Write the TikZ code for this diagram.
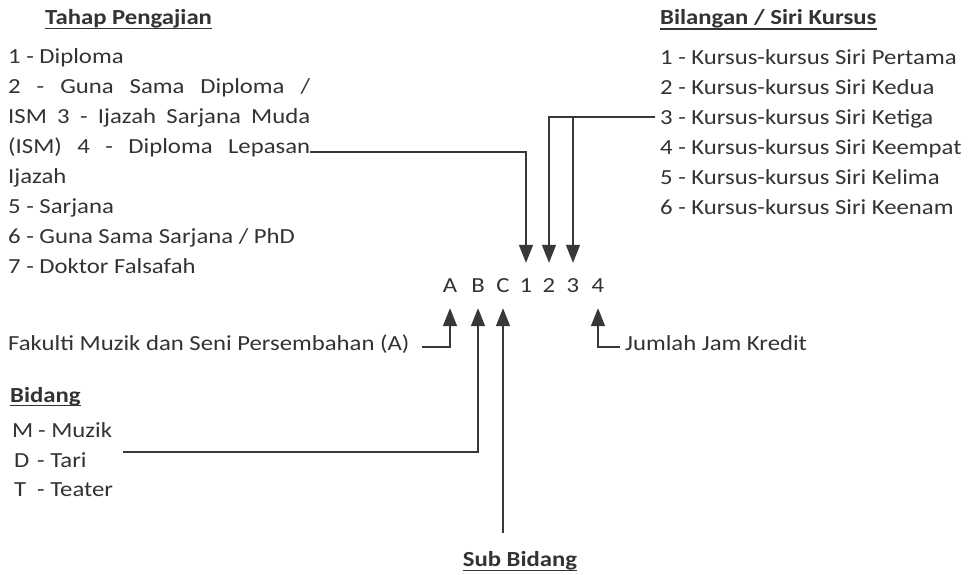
\documentclass[tikz,border=0pt]{standalone}
\usepackage{fontspec}
\setmainfont{Carlito}[FakeStretch=1.15]
\usetikzlibrary{arrows.meta,calc}
\definecolor{txt}{HTML}{333333}
\definecolor{ln}{HTML}{383838}
\begin{document}
\begin{tikzpicture}[x=1pt,y=-1pt,
  lbl/.style={anchor=base west, inner sep=0pt, text=txt, font=\fontsize{21.5}{26}\selectfont},
  head/.style={lbl, font=\fontsize{21.5}{26}\selectfont\bfseries},
  codech/.style={anchor=base, inner sep=0pt, text=txt, text height=13pt, text depth=0pt, font=\fontsize{21.5}{26}\selectfont},
  conn/.style={draw=ln, line width=1.5pt},
  arr/.style={conn, -{Triangle[width=14pt,length=18pt]}, shorten >=16pt},
  uline/.style={draw=txt, line width=1.4pt}]
\fill[white] (0,0) rectangle (972,574);
\useasboundingbox (0,0) rectangle (972,574);

% Tahap Pengajian
\node[head] (hT) at (45,24) {Tahap Pengajian};
\draw[uline] ($(hT.base west)+(0,4.5)$) -- ($(hT.base east)+(0,4.5)$);
\node[lbl] (l1) at (8,63) {1 - Diploma};
\node[lbl] (l2) at (8,93) {\makebox[302pt][s]{2 - Guna Sama Diploma /}};
\node[lbl] (l3) at (8,123) {\makebox[302pt][s]{ISM 3 - Ijazah Sarjana Muda}};
\node[lbl] (l4) at (8,153) {\makebox[302pt][s]{(ISM) 4 - Diploma Lepasan}};
\node[lbl] (l5) at (8,183) {Ijazah};
\node[lbl] (l6) at (8,213) {5 - Sarjana};
\node[lbl] (l7) at (8,243) {6 - Guna Sama Sarjana / PhD};
\node[lbl] (l8) at (8,273) {7 - Doktor Falsafah};

% Bilangan / Siri Kursus
\node[head] (hB) at (660,24) {Bilangan / Siri Kursus};
\draw[uline] ($(hB.base west)+(0,5)$) -- ($(hB.base east)+(0,5)$);
\node[lbl] (r1) at (660,64) {1 - Kursus-kursus Siri Pertama};
\node[lbl] (r2) at (660,94) {2 - Kursus-kursus Siri Kedua};
\node[lbl] (r3) at (660,124) {3 - Kursus-kursus Siri Ketiga};
\node[lbl] (r4) at (660,154) {4 - Kursus-kursus Siri Keempat};
\node[lbl] (r5) at (660,184) {5 - Kursus-kursus Siri Kelima};
\node[lbl] (r6) at (660,214) {6 - Kursus-kursus Siri Keenam};

% code
\node[codech] (cA) at (450,292) {A};
\node[codech] (cB) at (478,292) {B};
\node[codech] (cC) at (503,292) {C};
\node[codech] (c1) at (526,292) {1};
\node[codech] (c2) at (549,292) {2};
\node[codech] (c3) at (573,292) {3};
\node[codech] (c4) at (598,292) {4};

% lower labels
\node[lbl] (fak) at (8,350) {Fakulti Muzik dan Seni Persembahan (A)};
\node[lbl] (jum) at (625,350) {Jumlah Jam Kredit};
\node[head] (hBd) at (10,402) {Bidang};
\draw[uline] ($(hBd.base west)+(0,3.5)$) -- ($(hBd.base east)+(0,3.5)$);
\node[lbl] (bM) at (12,437) {\makebox[26pt][l]{M}- Muzik};
\node[lbl] (bD) at (14,467) {\makebox[23pt][l]{D}- Tari};
\node[lbl] (bT) at (14,496) {\makebox[23pt][l]{T}- Teater};
\node[head, anchor=base] (hS) at (520,566) {Sub Bidang};
\draw[uline] ($(hS.base west)+(0,4.5)$) -- ($(hS.base east)+(0,4.5)$);

% connectors
\coordinate (l4end) at ($(l4.base east)+(0,-1)$);
\draw[arr] (l4end) -| (c1.north);
\coordinate (r3w) at ($(r3.base west)+(-5,-7)$);
\draw[arr] (r3w) -| (c2.north);
\draw[arr] (c3.north |- r3w) -- (c3.north);
\coordinate (fakend) at ($(fak.base east)+(12,-3)$);
\draw[arr] (fakend) -| (cA.south);
\coordinate (jumst) at ($(jum.base west)+(-5,-3)$);
\draw[arr] (jumst) -| (c4.south);
\coordinate (bstart) at ($(bD.base west)+(109,-15)$);
\draw[arr] (bstart) -| (cB.south);
\coordinate (sbtop) at ($(hS.north)+(0,-18)$);
\draw[arr] (cC.south |- sbtop) -- (cC.south);
\end{tikzpicture}
\end{document}
